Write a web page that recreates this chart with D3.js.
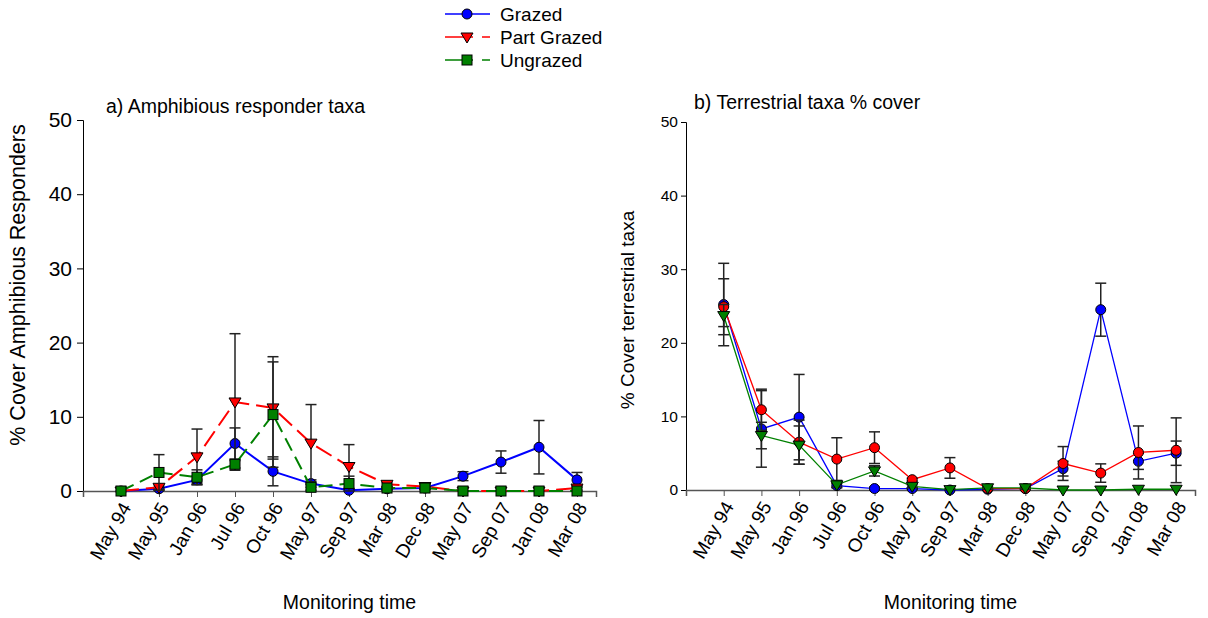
<!DOCTYPE html>
<html>
<head>
<meta charset="utf-8">
<script src="https://cdn.jsdelivr.net/npm/d3@7"></script>
<style>
  body { margin: 0; background: #fff; }
  svg text { font-family: Arial, "Liberation Sans", sans-serif; fill: #000; }
</style>
</head>
<body>
<svg id="chart" width="1208" height="618"></svg>
<script>
// monitoring dates, shared by both panels
const categories = ["May 94","May 95","Jan 96","Jul 96","Oct 96","May 97","Sep 97","Mar 98","Dec 98","May 07","Sep 07","Jan 08","Mar 08"];
const yTicks = [0, 10, 20, 30, 40, 50];

// a) amphibious responders (mean, error)
const grazedA    = [0, 0.3, 1.5, 6.4, 2.65, 1.0, 0.1, 0.3, 0.4, 2.0, 3.9, 5.9, 1.5];
const grazedAErr = [0, 0.2, 0.5, 2.1, 1.95, 0.5, 0.2, 0.2, 0.2, 0.6, 1.5, 3.6, 1.0];
const partA      = [0, 0.5, 4.6, 12.0, 11.2, 6.45, 3.3, 0.9, 0.6, 0, 0, 0, 0.4];
const partAErr   = [0, 0.3, 3.75, 9.2, 6.9, 5.2, 2.95, 0.3, 0.3, 0, 0, 0, 0.3];
const ungrA      = [0, 2.5, 1.85, 3.6, 10.3, 0.5, 1.0, 0.4, 0.4, 0, 0, 0, 0];
const ungrAErr   = [0, 2.4, 1.0, 0.5, 7.1, 0.4, 1.0, 0.2, 0.2, 0, 0, 0, 0];

// b) terrestrial taxa
const grazedT    = [25.2, 8.3, 9.9, 0.6, 0.2, 0.2, 0, 0.1, 0.2, 2.9, 24.5, 3.9, 5.0];
const grazedTErr = [5.6, 5.2, 5.8, 0.3, 0.2, 0.1, 0, 0.1, 0.1, 1.0, 3.6, 1.1, 1.65];
const partT      = [24.9, 10.9, 6.5, 4.2, 5.75, 1.4, 3.0, 0.2, 0.2, 3.6, 2.3, 5.1, 5.4];
const partTErr   = [3.8, 2.8, 3.0, 2.9, 2.15, 0.2, 1.4, 0.1, 0.1, 2.3, 1.25, 3.6, 4.4];
const ungrT      = [23.7, 7.4, 6.1, 0.7, 2.6, 0.5, 0.05, 0.3, 0.3, 0, 0, 0.1, 0.1];
const ungrTErr   = [1.5, 1.8, 2.6, 0.3, 0.7, 0.2, 0.1, 0.2, 0.2, 0, 0, 0, 0];

const svg = d3.select("#chart");

function marker(g, shape, x, y, fill) {
  if (shape == "circle") {
    g.append("circle").attr("cx", x).attr("cy", y).attr("r", 5)
      .attr("fill", fill).attr("stroke", "#000").attr("stroke-width", 1);
  } else if (shape == "square") {
    g.append("rect").attr("x", x - 5).attr("y", y - 5).attr("width", 10).attr("height", 10)
      .attr("fill", fill).attr("stroke", "#000").attr("stroke-width", 1);
  } else {
    // triangle pointing down
    g.append("path").attr("d", `M${x - 6},${y - 4}L${x + 6},${y - 4}L${x},${y + 6}Z`)
      .attr("fill", fill).attr("stroke", "#000").attr("stroke-width", 1);
  }
}

function drawPanel(p) {
  const x = d3.scaleLinear().domain([-1, 12.5]).range([p.left, p.right]);
  const y = d3.scaleLinear().domain([0, 50]).range([p.bottom, p.top]);
  const g = svg.append("g");

  // y axis
  const yAxis = g.append("g").attr("transform", `translate(${p.left},0)`)
    .call(d3.axisLeft(y).tickValues(yTicks).tickSize(p.tickLen).tickPadding(p.tickPad));
  yAxis.select(".domain").attr("stroke", "#000");
  yAxis.selectAll(".tick line").attr("stroke", "#000");
  yAxis.selectAll("text").style("font-size", p.yFont + "px").attr("fill", "#000");

  // x axis
  const xAxis = g.append("g").attr("transform", `translate(0,${p.bottom})`)
    .call(d3.axisBottom(x).tickValues(d3.range(categories.length)).tickSize(6).tickFormat(""));
  xAxis.select(".domain").attr("stroke", "#555").attr("stroke-width", 1.5);
  xAxis.selectAll(".tick line").attr("stroke", "#555");

  g.selectAll(".xlab").data(categories).enter().append("text")
    .attr("class", "xlab")
    .attr("transform", (d, i) => `translate(${x(i) + 5},${p.bottom + 13}) rotate(-60)`)
    .attr("text-anchor", "end").attr("dy", "0.35em")
    .style("font-size", "19px")
    .text(d => d);

  g.append("text").attr("x", (p.left + p.right) / 2 + 10).attr("y", 609)
    .attr("text-anchor", "middle").style("font-size", "19.5px").text("Monitoring time");

  g.append("text")
    .attr("transform", `translate(${p.ylabX},${p.ylabY}) rotate(-90)`)
    .attr("text-anchor", "middle").style("font-size", p.ylabFont + "px").text(p.ylabel);

  g.append("text").attr("x", p.titleX).attr("y", p.titleY)
    .style("font-size", "19.5px").text(p.title);

  const line = d3.line().x((d, i) => x(i)).y(d => y(d));

  p.series.forEach(s => {
    const sg = g.append("g");
    sg.append("path").datum(s.values).attr("d", line)
      .attr("fill", "none").attr("stroke", s.color).attr("stroke-width", p.lineWidth)
      .attr("stroke-dasharray", s.dash || null);
    // error bars
    s.values.forEach((v, i) => {
      const e = s.err[i];
      if (!e) return;
      const xi = x(i), y1 = y(v + e), y2 = y(Math.max(v - e, 0));
      sg.append("line").attr("x1", xi).attr("x2", xi).attr("y1", y1).attr("y2", y2)
        .attr("stroke", "#222").attr("stroke-width", 1.5);
      [y(v + e), y(v - e)].forEach(yy => {
        if (yy > p.bottom) return;
        sg.append("line").attr("x1", xi - 5.5).attr("x2", xi + 5.5).attr("y1", yy).attr("y2", yy)
          .attr("stroke", "#222").attr("stroke-width", 1.5);
      });
    });
    s.values.forEach((v, i) => marker(sg, s.shape, x(i), y(v), s.fill));
  });
}

drawPanel({
  left: 83, right: 596, top: 120, bottom: 491,
  tickLen: 6, tickPad: 5, yFont: 21, lineWidth: 2,
  ylabel: "% Cover Amphibious Responders", ylabX: 25, ylabY: 285, ylabFont: 21.5,
  title: "a) Amphibious responder taxa", titleX: 106, titleY: 113,
  series: [
    { values: grazedA, err: grazedAErr, color: "#0000ff", fill: "#0000ff", shape: "circle" },
    { values: partA, err: partAErr, color: "#ff0000", fill: "#ff0000", shape: "triangle", dash: "18,7" },
    { values: ungrA, err: ungrAErr, color: "#008000", fill: "#008000", shape: "square", dash: "14,7" }
  ]
});

drawPanel({
  left: 686, right: 1195, top: 122, bottom: 490,
  tickLen: 5, tickPad: 3, yFont: 15.5, lineWidth: 1.3,
  ylabel: "% Cover terrestrial taxa", ylabX: 634, ylabY: 310, ylabFont: 19,
  title: "b) Terrestrial taxa % cover", titleX: 694, titleY: 109,
  series: [
    { values: grazedT, err: grazedTErr, color: "#0000ff", fill: "#0000ff", shape: "circle" },
    { values: partT, err: partTErr, color: "#ff0000", fill: "#ff0000", shape: "circle" },
    { values: ungrT, err: ungrTErr, color: "#008000", fill: "#008000", shape: "triangle" }
  ]
});

// legend
const legendItems = [
  { name: "Grazed", color: "#0000ff", shape: "circle", dash: null },
  { name: "Part Grazed", color: "#ff0000", shape: "triangle", dash: "28,9,8" },
  { name: "Ungrazed", color: "#008000", shape: "square", dash: "28,9,8" }
];
const lg = svg.append("g");
legendItems.forEach((d, i) => {
  const yy = 14 + i * 23;
  lg.append("line").attr("x1", 445).attr("x2", 490).attr("y1", yy).attr("y2", yy)
    .attr("stroke", d.color).attr("stroke-width", 1.5).attr("stroke-dasharray", d.dash);
  marker(lg, d.shape, 467, yy, d.color);
  lg.append("text").attr("x", 500).attr("y", yy + 7).style("font-size", "19px").text(d.name);
});
</script>
</body>
</html>
